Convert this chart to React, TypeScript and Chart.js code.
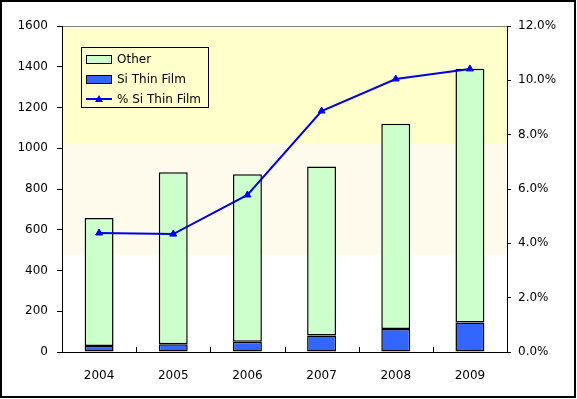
import React, { useEffect, useRef } from "react";
import { Chart, registerables } from "chart.js";

Chart.register(...registerables);

const years = ["2004", "2005", "2006", "2007", "2008", "2009"];
const siThinFilm = [29, 38, 50, 81, 113, 145];
const other = [629, 844, 823, 830, 1007, 1245];
const pctSiThinFilm = [4.38, 4.34, 5.78, 8.87, 10.05, 10.42];
const leftTicks = [0, 200, 400, 600, 800, 1000, 1200, 1400, 1600];
const rightTicks = [0, 2, 4, 6, 8, 10, 12];

const FONT = "'DejaVu Sans', sans-serif";
const LINE_COLOR = "rgb(0,0,230)";
const OTHER_COLOR = "#CCFFCC";
const SI_COLOR = "#3366FF";

const framePlugin = {
  id: "frame",
  beforeDraw(chart: any) {
    const { ctx, chartArea: a, width, height } = chart;
    ctx.save();
    ctx.fillStyle = "#ffffff";
    ctx.fillRect(0, 0, width, height);
    const h = a.bottom - a.top;
    const b1 = a.top + h * 0.362;
    const b2 = a.top + h * 0.702;
    ctx.fillStyle = "rgb(255,255,204)";
    ctx.fillRect(a.left, a.top, a.right - a.left, b1 - a.top);
    ctx.fillStyle = "rgb(255,251,236)";
    ctx.fillRect(a.left, b1, a.right - a.left, b2 - b1);
    ctx.strokeStyle = "#808080";
    ctx.lineWidth = 1;
    ctx.beginPath();
    ctx.moveTo(a.left, a.top + 0.5);
    ctx.lineTo(a.right, a.top + 0.5);
    ctx.stroke();
    ctx.restore();
  },
  afterDraw(chart: any) {
    const { ctx, chartArea: a, scales } = chart;
    ctx.save();
    const xs = scales.x;
    ctx.strokeStyle = "#000";
    ctx.lineWidth = 1;
    for (let i = 1; i < years.length; i++) {
      const x = Math.round((xs.getPixelForValue(i - 1) + xs.getPixelForValue(i)) / 2) + 0.5;
      ctx.beginPath();
      ctx.moveTo(x, a.bottom);
      ctx.lineTo(x, a.bottom - 5);
      ctx.stroke();
    }
    const lx = a.left + 19;
    const ly = a.top + 21;
    const lw = 127;
    const lh = 60;
    ctx.strokeStyle = "#000";
    ctx.lineWidth = 1;
    ctx.strokeRect(lx + 0.5, ly + 0.5, lw, lh);
    const items = [
      { label: "Other", kind: "box", color: OTHER_COLOR },
      { label: "Si Thin Film", kind: "box", color: SI_COLOR },
      { label: "% Si Thin Film", kind: "line", color: LINE_COLOR },
    ];
    ctx.font = "12px " + FONT;
    ctx.textBaseline = "middle";
    ctx.textAlign = "left";
    items.forEach((it, i) => {
      const cy = ly + 12 + i * 20;
      const sx = lx + 5;
      if (it.kind === "box") {
        ctx.fillStyle = it.color;
        ctx.fillRect(sx, cy - 4, 26, 8);
        ctx.strokeStyle = "#000";
        ctx.lineWidth = 1;
        ctx.strokeRect(sx + 0.5, cy - 4 + 0.5, 25, 8);
      } else {
        ctx.strokeStyle = it.color;
        ctx.lineWidth = 2;
        ctx.beginPath();
        ctx.moveTo(sx, cy);
        ctx.lineTo(sx + 26, cy);
        ctx.stroke();
        ctx.fillStyle = it.color;
        ctx.beginPath();
        ctx.moveTo(sx + 13, cy - 4);
        ctx.lineTo(sx + 17, cy + 3);
        ctx.lineTo(sx + 9, cy + 3);
        ctx.closePath();
        ctx.fill();
        ctx.lineWidth = 1;
      }
      ctx.fillStyle = "#000";
      ctx.fillText(it.label, sx + 31, cy + 0.5);
    });
    ctx.strokeStyle = "#000";
    ctx.lineWidth = 2;
    ctx.strokeRect(1, 1, 574, 396);
    ctx.restore();
  },
};

export default function App() {
  const ref = useRef<HTMLCanvasElement>(null);
  useEffect(() => {
    document.body.style.margin = "0";
    const canvas = ref.current!;
    const chart = new Chart(canvas, {
      type: "bar",
      data: {
        labels: years,
        datasets: [
          {
            type: "line",
            label: "% Si Thin Film",
            data: pctSiThinFilm,
            yAxisID: "y1",
            borderColor: LINE_COLOR,
            backgroundColor: LINE_COLOR,
            borderWidth: 2,
            pointStyle: "triangle",
            pointRadius: 4,
            pointBorderWidth: 1,
            tension: 0,
            order: 0,
          } as any,
          {
            type: "bar",
            label: "Si Thin Film",
            data: siThinFilm,
            yAxisID: "y",
            backgroundColor: SI_COLOR,
            borderColor: "#000",
            borderWidth: 1.5,
            borderSkipped: false,
            order: 1,
          },
          {
            type: "bar",
            label: "Other",
            data: other,
            yAxisID: "y",
            backgroundColor: OTHER_COLOR,
            borderColor: "#000",
            borderWidth: 1.5,
            borderSkipped: false,
            order: 2,
          },
        ],
      },
      options: {
        responsive: false,
        animation: false,
        layout: { padding: { top: 26, left: 0, right: 0, bottom: 0 } },
        datasets: { bar: { categoryPercentage: 1, barPercentage: 0.39 } },
        plugins: { legend: { display: false }, tooltip: { enabled: false } },
        scales: {
          x: {
            stacked: true,
            offset: true,
            grid: { display: false },
            border: { display: true, color: "#000", width: 1 },
            ticks: { color: "#000", font: { family: FONT, size: 12 }, padding: 9 },
            afterFit(s: any) {
              s.height = 47;
            },
          },
          y: {
            stacked: true,
            position: "left",
            min: 0,
            max: leftTicks[leftTicks.length - 1],
            afterBuildTicks(s: any) {
              s.ticks = leftTicks.map((v) => ({ value: v }));
            },
            grid: { display: true, drawOnChartArea: false, tickLength: 5, color: "#000" },
            border: { display: true, color: "#000", width: 1 },
            ticks: {
              color: "#000",
              font: { family: FONT, size: 12 },
              padding: 9,
              callback: (v: any) => String(v),
            },
            afterFit(s: any) {
              s.width = 62;
            },
          },
          y1: {
            position: "right",
            min: 0,
            max: rightTicks[rightTicks.length - 1],
            afterBuildTicks(s: any) {
              s.ticks = rightTicks.map((v) => ({ value: v }));
            },
            grid: { display: true, drawOnChartArea: false, tickLength: 4, color: "#000" },
            border: { display: true, color: "#000", width: 1 },
            ticks: {
              color: "#000",
              font: { family: FONT, size: 12 },
              padding: 7,
              callback: (v: any) => Number(v).toFixed(1) + "%",
            },
            afterFit(s: any) {
              s.width = 70;
            },
          },
        },
      },
      plugins: [framePlugin],
    });
    return () => chart.destroy();
  }, []);
  return (
    <div style={{ width: 577, height: 399, position: "relative" }}>
      <canvas ref={ref} width={577} height={399} style={{ display: "block" }} />
    </div>
  );
}
